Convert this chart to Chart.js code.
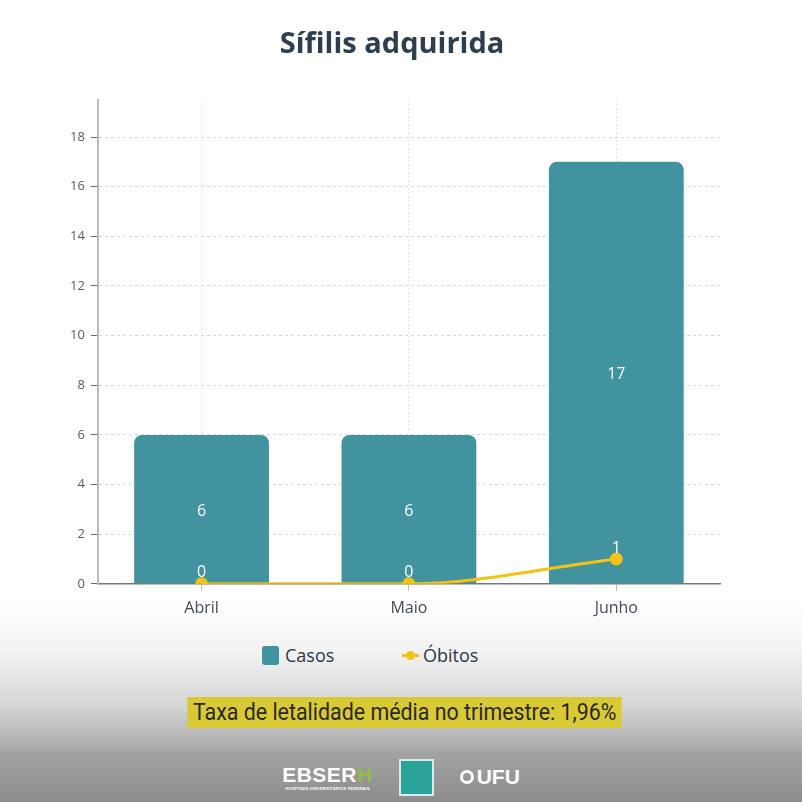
<!DOCTYPE html>
<html>
<head>
<meta charset="utf-8">
<script src="https://cdn.jsdelivr.net/npm/chart.js@4/dist/chart.umd.min.js"></script>
<style>
  html, body { margin: 0; padding: 0; }
  body {
    width: 802px; height: 802px; overflow: hidden; position: relative;
    font-family: "Open Sans", Inter, sans-serif;
    background: linear-gradient(to bottom, #fff 0px, #fff 600px, #f3f3f3 650px, #d6d6d6 705px, #a8a8a8 751px);
  }
  #wrap { position: absolute; left: 0; top: 0; width: 802px; height: 626px; }
  #legend { position: absolute; top: 643px; left: 0; width: 802px; height: 24px; font-size: 18px; color: #2d3748; }
  #legend .item { position: absolute; top: 0; display: inline-flex; align-items: center; }
  #legend .box { width: 17px; height: 19px; border-radius: 3px; background: #4193a0; margin-right: 6px; }
  #legend .ln { position: relative; width: 17px; height: 17px; margin-right: 4px; }
  #legend .ln::before { content: ""; position: absolute; left: 0; right: 0; top: 7px; height: 3px; background: #f2c316; }
  #legend .ln::after { content: ""; position: absolute; left: 4px; top: 4px; width: 9px; height: 9px; border-radius: 50%; background: #f2c316; }
  #taxa { position: absolute; top: 697px; left: 4px; width: 802px; text-align: center; }
  #taxa span {
    display: inline-block; background: #d9c934; padding: 2px 6px;
    font-family: Roboto, sans-serif; font-size: 23px; color: #2a2a2a;
    transform: scaleX(0.93); transform-origin: center; white-space: nowrap;
  }
  #footer {
    position: absolute; left: 0; top: 752px; width: 802px; height: 50px;
    background: linear-gradient(to bottom, #a2a2a2, #8d8d8d);
    display: flex; justify-content: center; align-items: center; gap: 26px;
  }
  .ebserh { color: #fff; font-family: "Liberation Sans", Arial, sans-serif; font-weight: 700; text-align: center; line-height: 1; }
  .ebserh .big { font-size: 21px; letter-spacing: 0.5px; }
  .ebserh .big b { color: #8fbf3f; }
  .ebserh .small { font-size: 4px; letter-spacing: 0.2px; margin-top: 2px; }
  .hc { width: 35px; height: 37px; background: #27a39a; border: 2px solid #dfe9ea; box-sizing: border-box; }
  .ufu { color: #fff; font-family: "Liberation Sans", Arial, sans-serif; font-weight: 700; font-size: 21px; display: flex; align-items: center; }
  .ufu i { display: inline-block; width: 14px; height: 14px; border-radius: 50%; border: 3px solid #fff; margin-right: 3px; box-sizing: border-box; }
</style>
</head>
<body>
<div id="wrap"><canvas id="chart"></canvas></div>
<div id="legend">
  <span class="item" style="left:262px"><span class="box"></span>Casos</span>
  <span class="item" style="left:402px"><span class="ln"></span>Óbitos</span>
</div>
<div id="taxa"><span>Taxa de letalidade média no trimestre: 1,96%</span></div>
<div id="footer">
  <div class="ebserh"><div class="big">EBSER<b>H</b></div><div class="small">HOSPITAIS UNIVERSITÁRIOS FEDERAIS</div></div>
  <div class="hc"></div>
  <div class="ufu"><i></i>UFU</div>
</div>
<script>
const chartTitle = "Sífilis adquirida";
const months = ["Abril", "Maio", "Junho"];
const casos = [6, 6, 17];
const obitos = [0, 0, 1];
const yMax = 19.5;
const yStep = 2;

// draw the value labels (no datalabels plugin available offline)
const valueLabels = {
    id: "valueLabels",
    afterDatasetsDraw(chart) {
        const ctx = chart.ctx;
        ctx.save();
        ctx.fillStyle = "#ffffff";
        ctx.font = "500 16px 'Open Sans', sans-serif";
        ctx.textAlign = "center";
        ctx.textBaseline = "middle";
        chart.data.datasets.forEach((ds, i) => {
            const meta = chart.getDatasetMeta(i);
            meta.data.forEach((el, j) => {
                if (ds.type === "bar") {
                    ctx.fillText(ds.data[j], el.x, (el.y + el.base) / 2 + 2);
                } else {
                    ctx.fillText(ds.data[j], el.x, el.y - 11);
                }
            });
        });
        ctx.restore();
    }
};

const ctx = document.getElementById("chart").getContext("2d");
new Chart(ctx, {
    data: {
        labels: months,
        datasets: [
            {
                type: "line",
                label: "Óbitos",
                data: obitos,
                borderColor: "#f2c316",
                backgroundColor: "#f2c316",
                borderWidth: 3,
                pointRadius: 5,
                cubicInterpolationMode: "monotone",
                order: 0
            },
            {
                type: "bar",
                label: "Casos",
                data: casos,
                backgroundColor: "#4193a0",
                borderRadius: 8,
                borderSkipped: "bottom",
                barPercentage: 0.65,
                categoryPercentage: 1,
                order: 1
            }
        ]
    },
    options: {
        responsive: true,
        maintainAspectRatio: false,
        animation: false,
        layout: { padding: { left: 64, right: 82, top: 10, bottom: 0 } },
        plugins: {
            legend: { display: false },
            tooltip: { enabled: false },
            title: {
                display: true,
                text: chartTitle,
                color: "#2c3e50",
                font: { family: "'Open Sans', sans-serif", size: 29, weight: "bold" },
                padding: { top: 17, bottom: 38 }
            }
        },
        scales: {
            x: {
                grid: {
                    offset: false,
                    color: "#e6e6e6",
                    tickColor: "#bbbbbb",
                    tickLength: 7
                },
                border: { color: "#777777", width: 1.5, dash: [2, 2] },
                ticks: { color: "#444c56", font: { family: "'Open Sans', sans-serif", size: 16 }, padding: 8 }
            },
            y: {
                min: 0,
                max: yMax,
                afterBuildTicks(scale) {
                    scale.ticks = scale.ticks.filter(t => t.value % yStep === 0);
                },
                ticks: { stepSize: yStep, color: "#555c66", font: { family: "'Open Sans', sans-serif", size: 13 }, padding: 6 },
                grid: {
                    color: "#d9d9d9",
                    tickColor: "#666666",
                    tickLength: 7
                },
                border: { color: "#bbbbbb", width: 2, dash: [3, 3] }
            }
        }
    },
    plugins: [valueLabels]
});
</script>
</body>
</html>
